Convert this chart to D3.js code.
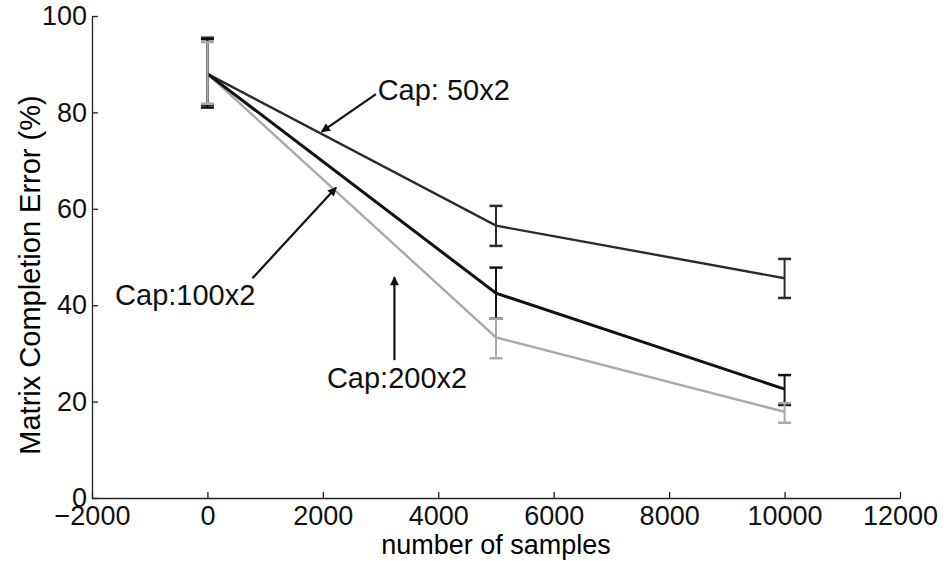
<!DOCTYPE html>
<html>
<head>
<meta charset="utf-8">
<script src="https://cdn.jsdelivr.net/npm/d3@7"></script>
<style>
  body { margin: 0; background: #fff; }
  svg { font-family: "Liberation Sans", Arial, Helvetica, sans-serif; }
  .axis path, .axis line { stroke: #222; stroke-width: 1.3; }
  .axis text { font-size: 27px; fill: #111; }
</style>
</head>
<body>
<svg id="chart" width="944" height="561"></svg>
<script>
// sample counts on the x axis
const samples = [0, 5000, 10000];

// mean error (%) and error bar bounds for each capacity
const cap50 = [88.0, 56.5, 45.6];
const cap50Lo = [81.5, 52.3, 41.5];
const cap50Hi = [95.5, 60.6, 49.6];

const cap100 = [88.0, 42.5, 22.6];
const cap100Lo = [81.0, 37.2, 19.3];
const cap100Hi = [95.2, 47.8, 25.5];

const cap200 = [88.0, 33.3, 17.9];
const cap200Lo = [81.8, 29.0, 15.6];
const cap200Hi = [94.6, 37.2, 19.7];

const xTicks = [-2000, 0, 2000, 4000, 6000, 8000, 10000, 12000];
const yTicks = [0, 20, 40, 60, 80, 100];

// annotation labels: text anchor and arrow [from, to] in data units
const notes = [
  {label: "Cap: 50x2", x: 2950, y: 82.5, from: [2920, 83.8], to: [1980, 76.0]},
  {label: "Cap:100x2", x: -1600, y: 40.0, from: [780, 45.6], to: [2230, 64.4]},
  {label: "Cap:200x2", x: 2070, y: 22.8, from: [3240, 28.6], to: [3240, 45.8]}
];

const margin = {left: 92, right: 44, top: 16, bottom: 63};
const width = 944, height = 561;
const svg = d3.select("#chart");

const x = d3.scaleLinear().domain([-2000, 12000]).range([margin.left, width - margin.right]);
const y = d3.scaleLinear().domain([0, 100]).range([height - margin.bottom, margin.top]);

// axes, ticks pointing into the plot
svg.append("g").attr("class", "axis")
  .attr("transform", `translate(0,${y(0)})`)
  .call(d3.axisBottom(x).tickValues(xTicks).tickSizeInner(-6).tickSizeOuter(0).tickPadding(8)
    .tickFormat(d => d < 0 ? "\u2212" + Math.abs(d) : d));

svg.append("g").attr("class", "axis")
  .attr("transform", `translate(${x(-2000)},0)`)
  .call(d3.axisLeft(y).tickValues(yTicks).tickSizeInner(-6).tickSizeOuter(0).tickPadding(5));

svg.selectAll(".axis").attr("font-family", null).attr("font-size", null);

// axis titles
svg.append("text")
  .attr("x", (x(-2000) + x(12000)) / 2)
  .attr("y", 554)
  .attr("text-anchor", "middle")
  .style("font-size", "27px")
  .text("number of samples");

svg.append("text")
  .attr("transform", `translate(40,${(y(0) + y(100)) / 2 + 18}) rotate(-90)`)
  .attr("text-anchor", "middle")
  .style("font-size", "29px")
  .text("Matrix Completion Error (%)");

const series = [
  {name: "cap50", vals: cap50, lo: cap50Lo, hi: cap50Hi, color: "#2b2b2b", w: 2.4},
  {name: "cap100", vals: cap100, lo: cap100Lo, hi: cap100Hi, color: "#111", w: 3},
  {name: "cap200", vals: cap200, lo: cap200Lo, hi: cap200Hi, color: "#a9a9a9", w: 2.4}
];

const line = d3.line().x((d, i) => x(samples[i])).y(d => y(d));
const capW = 6.5;

// lines first, then the error bars on top
[series[2], series[0], series[1]].forEach(s => {
  svg.append("path")
    .datum(s.vals)
    .attr("class", s.name)
    .attr("fill", "none")
    .attr("stroke", s.color)
    .attr("stroke-width", s.w)
    .attr("d", line);
});

series.forEach(s => {
  const bars = svg.append("g").attr("class", s.name + "-bars")
    .selectAll(".bar").data(samples).enter().append("g").attr("class", "bar");
  bars.append("line")
    .attr("x1", d => x(d)).attr("x2", d => x(d))
    .attr("y1", (d, i) => y(s.lo[i])).attr("y2", (d, i) => y(s.hi[i]))
    .attr("stroke", s.color).attr("stroke-width", 2);
  bars.append("line")
    .attr("x1", d => x(d) - capW).attr("x2", d => x(d) + capW)
    .attr("y1", (d, i) => y(s.lo[i])).attr("y2", (d, i) => y(s.lo[i]))
    .attr("stroke", s.color).attr("stroke-width", 2.5);
  bars.append("line")
    .attr("x1", d => x(d) - capW).attr("x2", d => x(d) + capW)
    .attr("y1", (d, i) => y(s.hi[i])).attr("y2", (d, i) => y(s.hi[i]))
    .attr("stroke", s.color).attr("stroke-width", 2.5);
});

// arrow head marker
svg.append("defs").append("marker")
  .attr("id", "head")
  .attr("viewBox", "0 0 10 10")
  .attr("refX", 9).attr("refY", 5)
  .attr("markerWidth", 11).attr("markerHeight", 9)
  .attr("markerUnits", "userSpaceOnUse")
  .attr("orient", "auto")
  .append("path")
  .attr("d", "M0,0 L10,5 L0,10 Z")
  .attr("fill", "#111");

const ann = svg.append("g").attr("class", "notes");
ann.selectAll("line").data(notes).enter().append("line")
  .attr("x1", d => x(d.from[0])).attr("y1", d => y(d.from[1]))
  .attr("x2", d => x(d.to[0])).attr("y2", d => y(d.to[1]))
  .attr("stroke", "#111").attr("stroke-width", 2.2)
  .attr("marker-end", "url(#head)");

ann.selectAll("text").data(notes).enter().append("text")
  .attr("x", d => x(d.x)).attr("y", d => y(d.y))
  .style("font-size", "29px")
  .attr("fill", "#111")
  .text(d => d.label);
</script>
</body>
</html>
